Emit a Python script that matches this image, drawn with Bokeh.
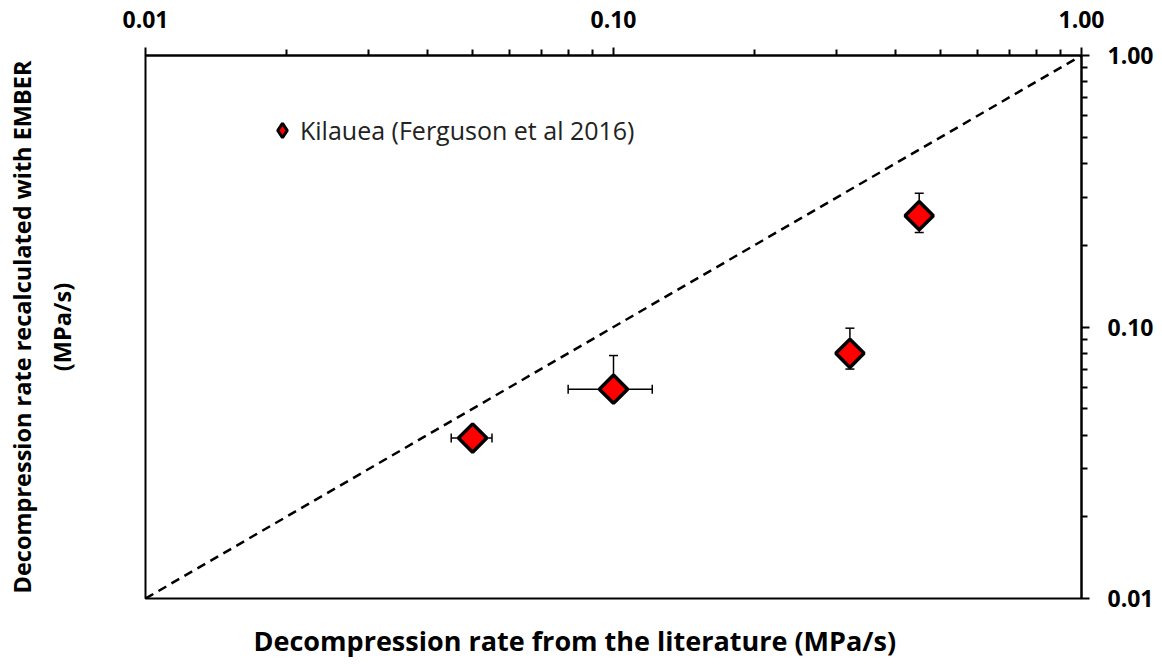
import math
from bokeh.plotting import figure
from bokeh.models import (Range1d, FixedTicker, PrintfTickFormatter, Whisker, TeeHead,
                          ColumnDataSource, Legend, LegendItem, Title, LinearAxis)
from bokeh.embed import file_html
from bokeh.resources import INLINE

# ---- data ----
series_name = "Kilauea (Ferguson et al 2016)"
x_lit = [0.05, 0.10, 0.32, 0.45]
y_ember = [0.039, 0.059, 0.080, 0.257]
x_lo = [0.045, 0.080, 0.32, 0.45]
x_hi = [0.055, 0.121, 0.32, 0.45]
y_lo = [0.039, 0.059, 0.070, 0.223]
y_hi = [0.039, 0.0785, 0.099, 0.311]
line_x = [0.01, 1.0]
line_y = [0.01, 1.0]
major_ticks = [0.01, 0.1, 1.0]
minor_ticks = [0.02, 0.03, 0.04, 0.05, 0.06, 0.07, 0.08, 0.09,
               0.2, 0.3, 0.4, 0.5, 0.6, 0.7, 0.8, 0.9]
x_label = "Decompression rate from the literature (MPa/s)"
y_label = "Decompression rate recalculated with EMBER\n(MPa/s)"

FONT = "Open Sans"

p = figure(x_axis_type="log", y_axis_type="log",
           x_range=Range1d(0.01, 1.0), y_range=Range1d(0.01, 1.0),
           x_axis_location="above", y_axis_location="right",
           frame_width=936, frame_height=543,
           min_border_left=145, min_border_right=77, min_border_top=55, min_border_bottom=66,
           output_backend="svg", toolbar_location=None)
p.background_fill_color = "white"
p.border_fill_color = "white"
p.outline_line_color = "black"
p.outline_line_width = 2
p.xgrid.visible = False
p.ygrid.visible = False

for ax in (p.xaxis[0], p.yaxis[0]):
    ax.ticker = FixedTicker(ticks=major_ticks, minor_ticks=minor_ticks)
    ax.formatter = PrintfTickFormatter(format="%.2f")
    ax.axis_line_width = 2
    ax.axis_line_color = "black"
    ax.major_tick_line_width = 2
    ax.minor_tick_line_width = 2
    ax.major_tick_out = 8
    ax.major_tick_in = 0
    ax.minor_tick_out = 6
    ax.minor_tick_in = 0
    ax.major_label_text_font = FONT
    ax.major_label_text_font_style = "bold"
    ax.major_label_text_font_size = "23px"
    ax.major_label_text_color = "black"
p.xaxis[0].major_label_standoff = 20
p.yaxis[0].major_label_standoff = 18

# left axis used only to carry the two-line y-axis title
left_ax = LinearAxis(ticker=FixedTicker(ticks=[]), axis_line_color=None,
                     major_tick_line_color=None, minor_tick_line_color=None,
                     major_label_text_font_size="0px",
                     axis_label=y_label, axis_label_standoff=68,
                     axis_label_text_font=FONT, axis_label_text_font_style="bold",
                     axis_label_text_font_size="23.5px", axis_label_text_color="black",
                     axis_label_text_line_height=1.25)
p.add_layout(left_ax, "left")

# 1:1 line
p.line(line_x, line_y, line_color="black", line_width=2.5, line_dash="9 6")

src = ColumnDataSource(dict(x=x_lit, y=y_ember, xl=x_lo, xh=x_hi, yl=y_lo, yh=y_hi))
wy = Whisker(base="x", lower="yl", upper="yh", source=src, dimension="height",
             line_color="black", line_width=1.5, level="underlay",
             upper_head=TeeHead(size=9, line_width=1.5), lower_head=TeeHead(size=9, line_width=1.5))
wx = Whisker(base="y", lower="xl", upper="xh", source=src, dimension="width",
             line_color="black", line_width=1.5, level="underlay",
             upper_head=TeeHead(size=9, line_width=1.5), lower_head=TeeHead(size=9, line_width=1.5))
p.add_layout(wy)
p.add_layout(wx)

# legend proxy: small diamonds hidden under the data markers, supplies the legend glyph
r_leg = p.scatter("x", "y", source=src, marker="diamond", size=12,
                  fill_color="#ff0000", line_color="black", line_width=3)
r = p.scatter("x", "y", source=src, marker="square", size=20, angle=math.pi / 4,
              fill_color="#ff0000", line_color="black", line_width=3.5)

legend = Legend(items=[LegendItem(label=series_name, renderers=[r_leg])],
                location=(119, 450), orientation="vertical",
                glyph_width=36, glyph_height=36, label_standoff=0,
                padding=0, margin=0, spacing=0,
                label_text_font=FONT, label_text_font_size="25px",
                label_text_color="#222222",
                border_line_color=None, background_fill_alpha=0)
p.add_layout(legend)

p.add_layout(Title(text=x_label, align="left", offset=108, standoff=43,
                   text_font=FONT, text_font_style="bold", text_font_size="27px",
                   text_color="black"), "below")

open("out.html", "w").write(file_html(p, INLINE))
